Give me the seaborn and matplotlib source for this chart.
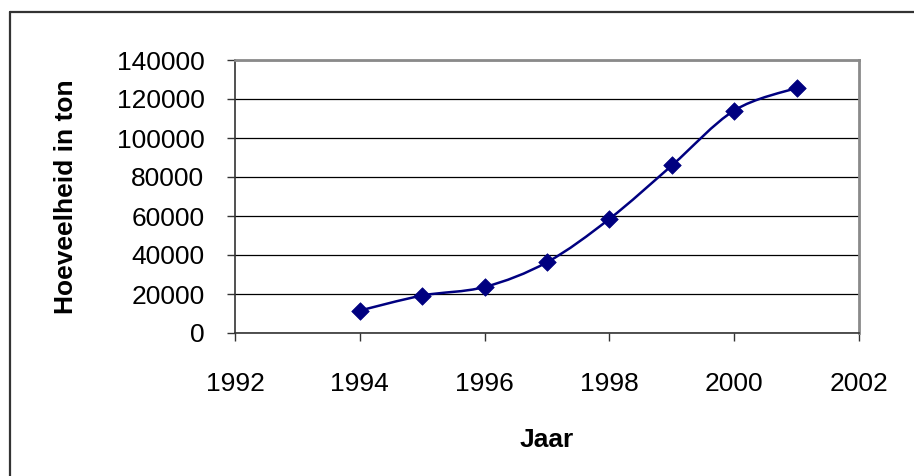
import numpy as np
import matplotlib
matplotlib.use("Agg")
import matplotlib.pyplot as plt
from matplotlib.path import Path
from matplotlib.patches import PathPatch
from matplotlib.lines import Line2D
import seaborn as sns
import pandas as pd

# data
years = [1994, 1995, 1996, 1997, 1998, 1999, 2000, 2001]
tons = [11500, 19200, 23600, 36300, 58500, 85900, 114100, 125700]
x_ticks = [1992, 1994, 1996, 1998, 2000, 2002]
y_ticks = [0, 20000, 40000, 60000, 80000, 100000, 120000, 140000]

df = pd.DataFrame({"Jaar": years, "Hoeveelheid": tons})

sns.set_style("white")
plt.rcParams["font.family"] = ["Liberation Sans", "DejaVu Sans"]
plt.rcParams["text.color"] = "black"
plt.rcParams["axes.labelcolor"] = "black"
plt.rcParams["xtick.color"] = "black"
plt.rcParams["ytick.color"] = "black"

navy = "#000080"
fig = plt.figure(figsize=(9.14, 4.76), dpi=100)
ax = fig.add_axes([235 / 914, 1 - 333 / 476, (859 - 235) / 914, (333 - 60) / 476])

# smoothed line (Catmull-Rom as cubic bezier, like Excel's smoothed line)
pts = np.column_stack([years, tons]).astype(float)
ext = np.vstack([pts[0], pts, pts[-1]])
verts = [tuple(pts[0])]
codes = [Path.MOVETO]
for i in range(len(pts) - 1):
    p0, p1, p2, p3 = ext[i], ext[i + 1], ext[i + 2], ext[i + 3]
    c1 = p1 + (p2 - p0) / 6
    c2 = p2 - (p3 - p1) / 6
    verts += [tuple(c1), tuple(c2), tuple(p2)]
    codes += [Path.CURVE4] * 3
ax.add_patch(PathPatch(Path(verts, codes), fill=False, edgecolor=navy, lw=1.8, zorder=3))

sns.scatterplot(data=df, x="Jaar", y="Hoeveelheid", marker="D", s=80, color=navy,
                edgecolor=navy, linewidth=0.5, ax=ax, zorder=4)

ax.set_xlim(1992, 2002)
ax.set_ylim(0, 140000)
ax.set_xticks(x_ticks)
ax.set_yticks(y_ticks)
ax.set_xticklabels([str(v) for v in x_ticks])
ax.set_yticklabels([str(v) for v in y_ticks])
ax.yaxis.grid(True, color="black", lw=0.9)
ax.set_axisbelow(True)
ax.tick_params(axis="x", direction="out", length=6, width=1, color="#333333",
               pad=22, labelsize=19, bottom=True)
ax.tick_params(axis="y", direction="out", length=6, width=1, color="#333333",
               pad=16, labelsize=19, left=True)

for side in ["top", "right"]:
    ax.spines[side].set_color("#8a8a8a")
    ax.spines[side].set_linewidth(2)
for side in ["left", "bottom"]:
    ax.spines[side].set_color("#333333")
    ax.spines[side].set_linewidth(1.2)

ax.set_xlabel("Jaar", fontsize=19, fontweight="bold", labelpad=23)
ax.set_ylabel("Hoeveelheid in ton", fontsize=19, fontweight="bold", labelpad=28)

# outer chart frame (left and top edges visible)
fig.add_artist(Line2D([9.5 / 914, 9.5 / 914], [0, 1 - 12 / 476], transform=fig.transFigure,
                      color="#333333", lw=1.6))
fig.add_artist(Line2D([9.5 / 914, 1], [1 - 12 / 476, 1 - 12 / 476], transform=fig.transFigure,
                      color="#333333", lw=1.6))

fig.savefig("out.png", dpi=100)
